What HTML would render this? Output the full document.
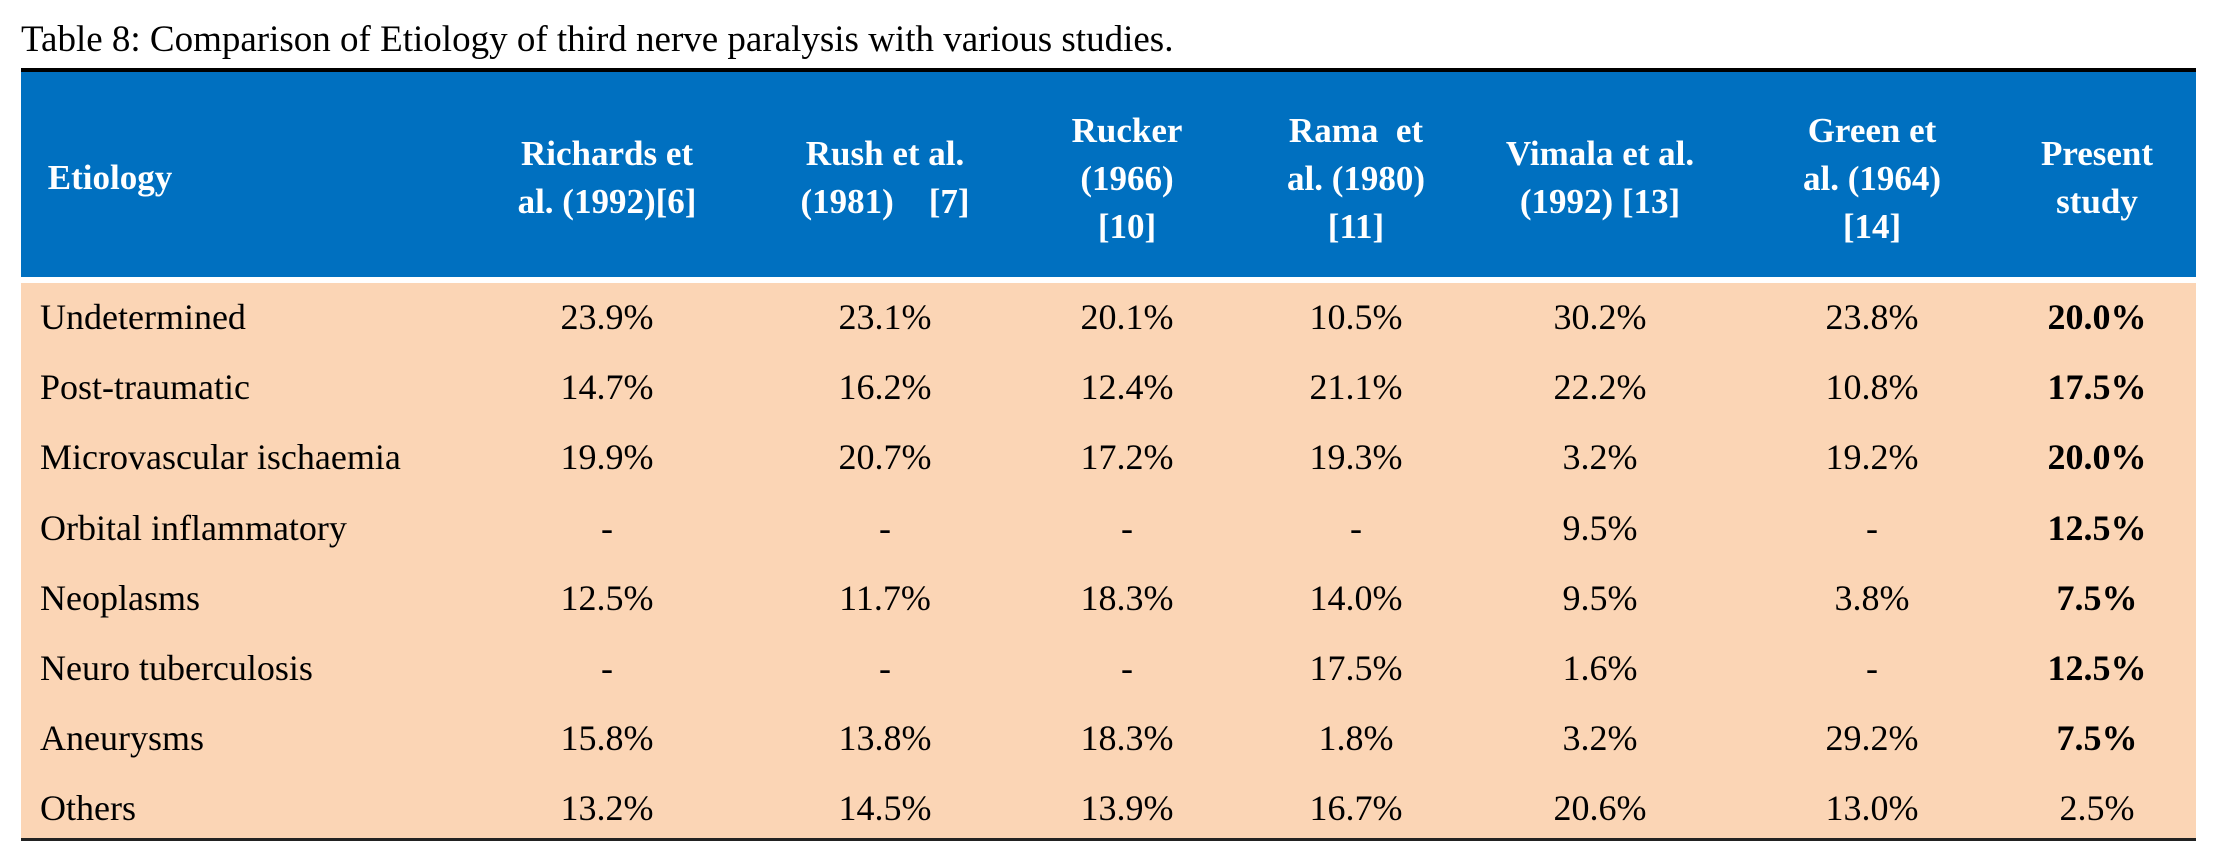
<!DOCTYPE html>
<html><head><meta charset="utf-8"><style>
body{margin:0;width:2214px;height:852px;background:#fff;position:relative;overflow:hidden;font-family:"Liberation Serif",serif;}
.a{position:absolute;}
#title{left:21px;top:18px;font-size:37px;color:#000;white-space:nowrap;}
#topline{left:21px;top:68px;width:2175px;height:4px;background:#000;}
#head{left:21px;top:72px;width:2175px;height:205px;background:#0070C0;}
#body{left:21px;top:283px;width:2175px;height:556px;background:#FBD5B5;}
#botline{left:21px;top:838px;width:2175px;height:3px;background:#222;}
.h{color:#fff;font-weight:bold;font-size:35px;line-height:48px;text-align:center;transform:translate(-50%,-50%);white-space:nowrap;}
.c{font-size:36px;transform:translate(-50%,-50%);white-space:nowrap;color:#000;}
.l{font-size:36px;transform:translateY(-50%);white-space:nowrap;color:#000;left:40px;}
.b{font-weight:bold;}
</style></head><body>
<div id="title" class="a">Table 8: Comparison of Etiology of third nerve paralysis with various studies.</div>
<div id="topline" class="a"></div>
<div id="head" class="a"></div>
<div id="body" class="a"></div>
<div id="botline" class="a"></div>
<div class="a h" style="left:110px;top:178px;text-align:left">Etiology</div>
<div class="a h" style="left:607px;top:178px">Richards et<br>al. (1992)[6]</div>
<div class="a h" style="left:885px;top:178px">Rush et al.<br>(1981)&nbsp;&nbsp;&nbsp;&nbsp;[7]</div>
<div class="a h" style="left:1127px;top:179px">Rucker<br>(1966)<br>[10]</div>
<div class="a h" style="left:1356px;top:179px">Rama&nbsp; et<br>al. (1980)<br>[11]</div>
<div class="a h" style="left:1600px;top:178px">Vimala et al.<br>(1992) [13]</div>
<div class="a h" style="left:1872px;top:179px">Green et<br>al. (1964)<br>[14]</div>
<div class="a h" style="left:2097px;top:178px">Present<br>study</div>
<div id="rows"></div>
<script>
const rowLabels=["Undetermined","Post-traumatic","Microvascular ischaemia","Orbital inflammatory","Neoplasms","Neuro tuberculosis","Aneurysms","Others"];
const vals=[
["23.9%","23.1%","20.1%","10.5%","30.2%","23.8%","20.0%"],
["14.7%","16.2%","12.4%","21.1%","22.2%","10.8%","17.5%"],
["19.9%","20.7%","17.2%","19.3%","3.2%","19.2%","20.0%"],
["-","-","-","-","9.5%","-","12.5%"],
["12.5%","11.7%","18.3%","14.0%","9.5%","3.8%","7.5%"],
["-","-","-","17.5%","1.6%","-","12.5%"],
["15.8%","13.8%","18.3%","1.8%","3.2%","29.2%","7.5%"],
["13.2%","14.5%","13.9%","16.7%","20.6%","13.0%","2.5%"]];
const boldPresent=[true,true,true,true,true,true,true,false];
const colX=[607,885,1127,1356,1600,1872,2097];
const host=document.body;
rowLabels.forEach((lab,i)=>{
  const y=317+i*70.2;
  const d=document.createElement('div');
  d.className='a l';d.style.top=y+'px';d.textContent=lab;
  
  
  host.appendChild(d);
  vals[i].forEach((v,j)=>{
    const c=document.createElement('div');
    c.className='a c'+(j===6&&boldPresent[i]?' b':'');
    c.style.left=colX[j]+'px';c.style.top=y+'px';c.textContent=v;
    
    
    host.appendChild(c);
  });
});
</script>
</body></html>
